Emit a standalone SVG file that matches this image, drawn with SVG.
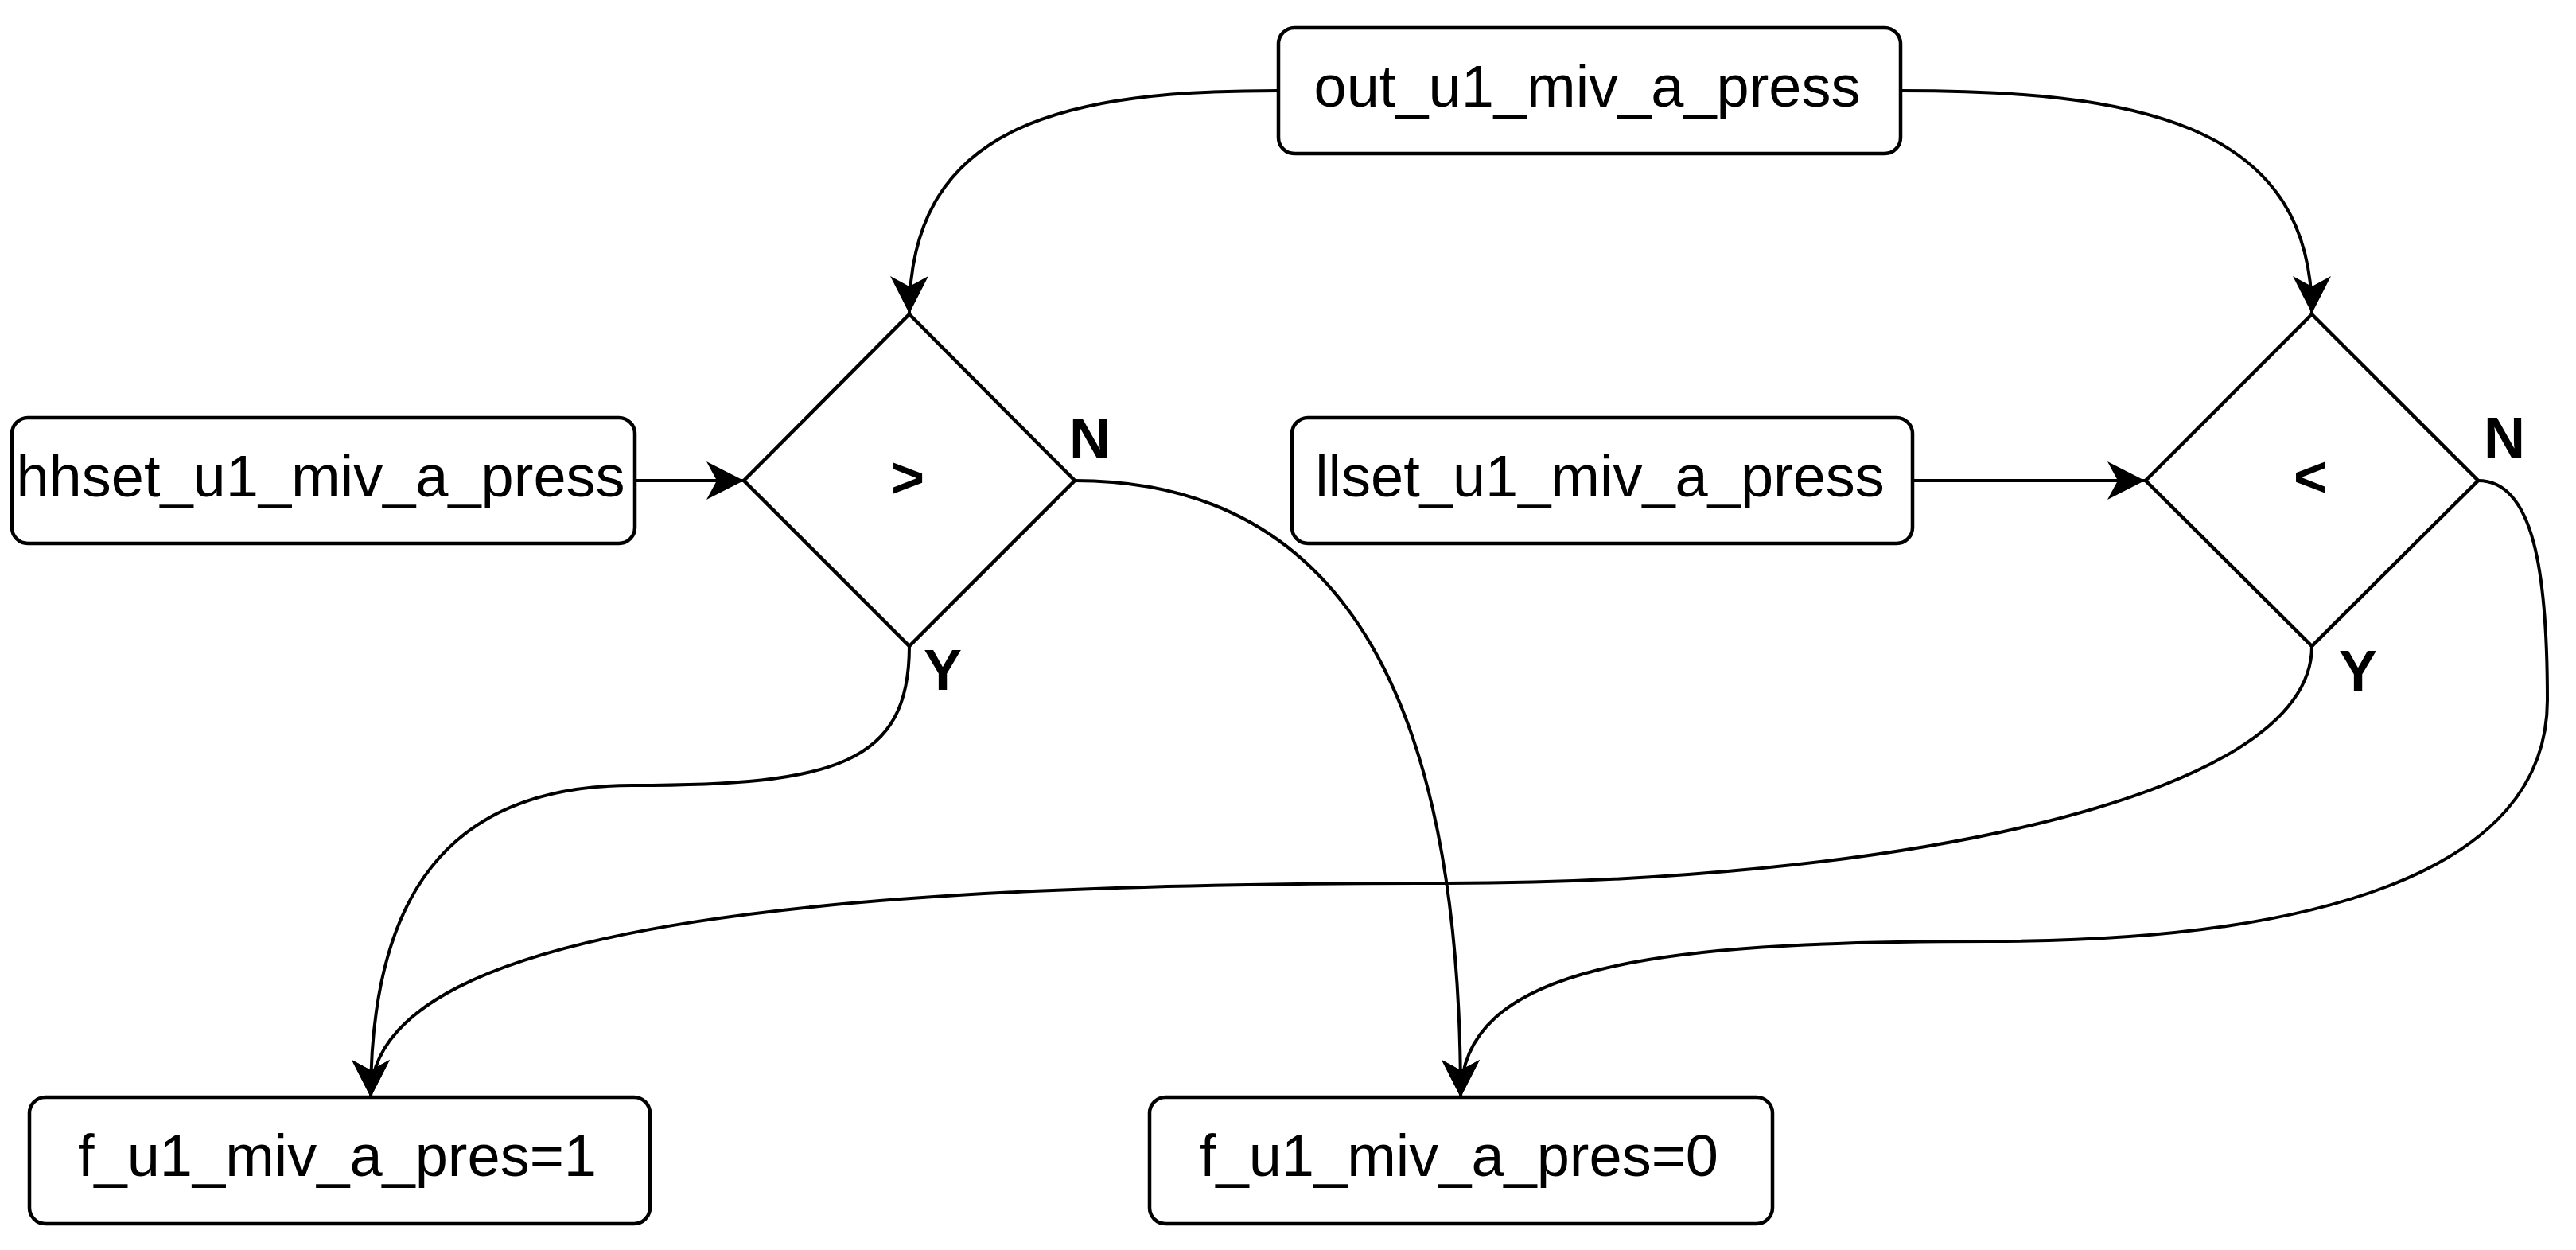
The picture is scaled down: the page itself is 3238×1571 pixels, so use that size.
<svg xmlns="http://www.w3.org/2000/svg" width="3238" height="1571" viewBox="0 0 3238 1571">
  <style>
    .box { fill: #ffffff; stroke: #000000; stroke-width: 4.5; }
    .lbl { font-family: "Liberation Sans", Arial, sans-serif; font-size: 74px; fill: #000000; text-anchor: middle; }
    .bold { font-family: "Liberation Sans", Arial, sans-serif; font-size: 72px; font-weight: bold; fill: #000000; }
    .edge { fill: none; stroke: #000000; stroke-width: 4; marker-end: url(#arrow); }
  </style>
  <defs>
    <marker id="arrow" markerUnits="userSpaceOnUse" viewBox="-50 -26 52 52" refX="0" refY="0" markerWidth="52" markerHeight="52" orient="auto">
      <path d="M0,0 L-47,-24 L-34,0 L-47,24 Z" fill="#000000"/>
    </marker>
  </defs>
  <rect width="3238" height="1571" fill="#ffffff"/>

  <g id="edges">
    <path class="edge" d="M1607,114 C1350,114 1143,150 1143,394"/>
    <path class="edge" d="M2389,114 C2675,114 2906,150 2906,394"/>
    <path class="edge" d="M798,604 L935,604"/>
    <path class="edge" d="M2404,604 L2696,604"/>
    <path class="edge" d="M1143,812 C1143,960 1050,987 795,987 C560,987 466,1130 466,1379"/>
    <path class="edge" d="M2906,812 C2906,1010 2350,1110 1818,1110 C1100,1110 466,1150 466,1379"/>
    <path class="edge" d="M1351,604 C1700,604 1836,900 1836,1379"/>
    <path class="edge" d="M3115,604 C3185,604 3202,720 3202,880 C3202,1100 2900,1183 2500,1183 C2070,1183 1836,1215 1836,1379"/>
  </g>

  <g id="node-out">
    <rect class="box" x="1607" y="35" width="782" height="158" rx="20" ry="20"/>
    <text class="lbl" x="1995" y="134">out_u1_miv_a_press</text>
  </g>
  <g id="node-hhset">
    <rect class="box" x="15" y="525" width="783" height="158" rx="20" ry="20"/>
    <text class="lbl" x="403" y="624">hhset_u1_miv_a_press</text>
  </g>
  <g id="node-gt">
    <polygon class="box" points="1143,395 1351,604 1143,812 935,604"/>
    <text class="bold" x="1141" y="625" text-anchor="middle">&gt;</text>
    <text class="bold" x="1344" y="576">N</text>
    <text class="bold" x="1161" y="867">Y</text>
  </g>
  <g id="node-llset">
    <rect class="box" x="1624" y="525" width="780" height="158" rx="20" ry="20"/>
    <text class="lbl" x="2011" y="624">llset_u1_miv_a_press</text>
  </g>
  <g id="node-lt">
    <polygon class="box" points="2906,395 3115,604 2906,812 2697,604"/>
    <text class="bold" x="2904" y="624" text-anchor="middle">&lt;</text>
    <text class="bold" x="3122" y="575">N</text>
    <text class="bold" x="2940" y="868">Y</text>
  </g>
  <g id="node-f1">
    <rect class="box" x="37" y="1379" width="780" height="159" rx="20" ry="20"/>
    <text class="lbl" x="424" y="1478">f_u1_miv_a_pres=1</text>
  </g>
  <g id="node-f0">
    <rect class="box" x="1445" y="1379" width="783" height="159" rx="20" ry="20"/>
    <text class="lbl" x="1834" y="1478">f_u1_miv_a_pres=0</text>
  </g>
</svg>
